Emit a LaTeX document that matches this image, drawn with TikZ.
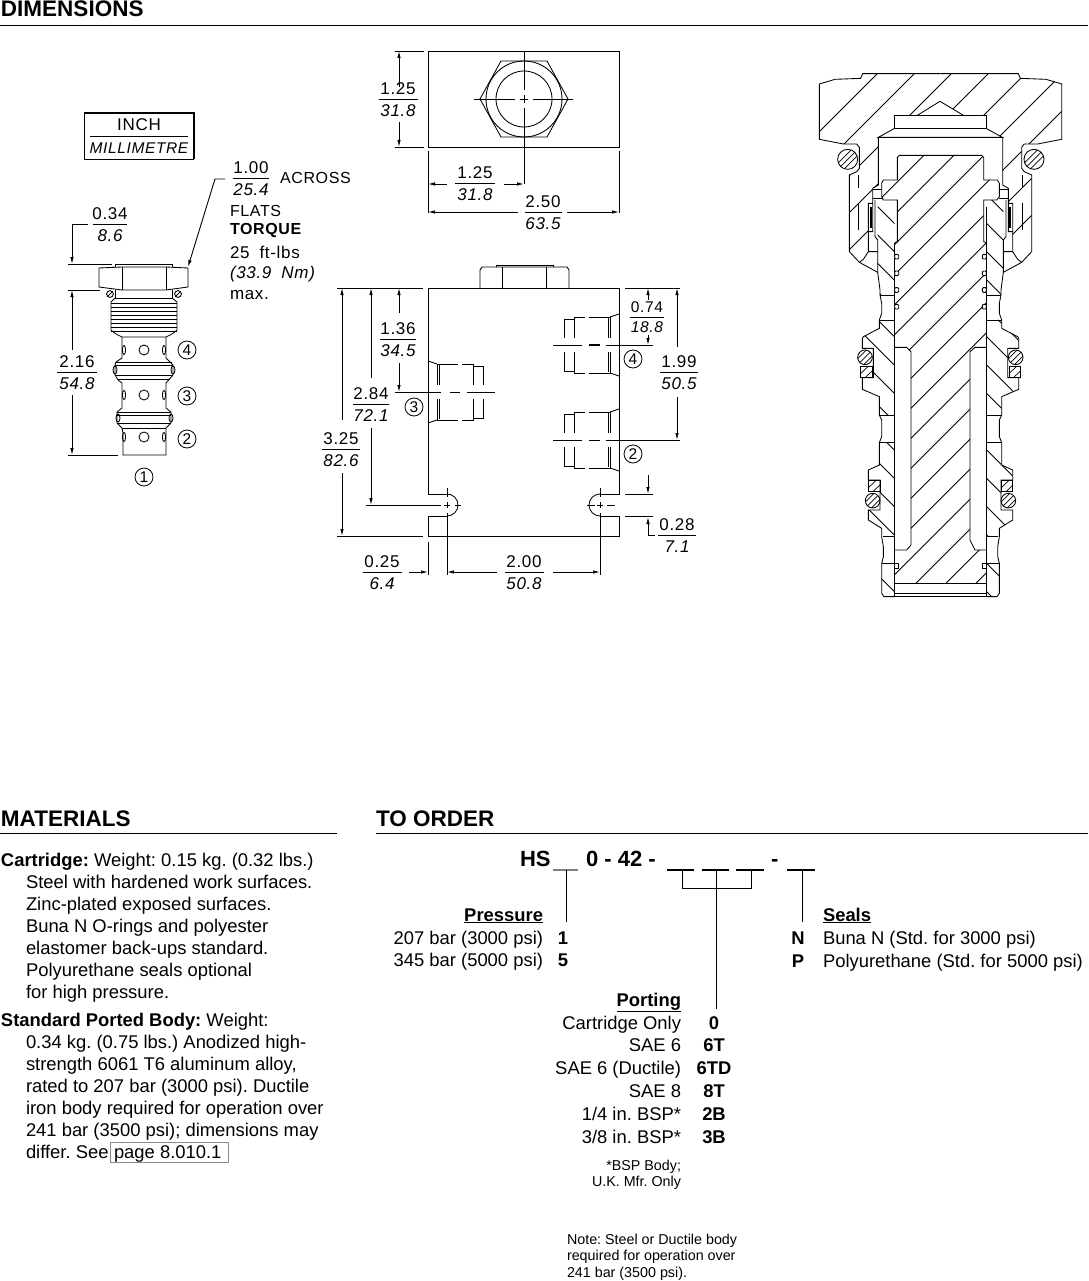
\documentclass[tikz,border=0pt]{standalone}
\usepackage{fontspec}
\usetikzlibrary{arrows.meta}
\setmainfont{Liberation Sans}
\newfontfamily\cadf[LetterSpace=4]{Liberation Sans}
\newcommand{\bodyf}{\frenchspacing\fontsize{18.4}{20}\selectfont}
\newcommand{\cadup}{\fontsize{17}{20}\selectfont\cadf}
\newcommand{\cadit}{\fontsize{17}{20}\selectfont\cadf\itshape}
\newcommand{\frc}[6]{%
 \node[cad] (#1t) at (#2,#3-10.5) {\cadup #5};
 \node[cad] (#1b) at (#2,#3+12) {\cadit #6};
 \draw[thin0] (#2-#4/2,#3) -- (#2+#4/2,#3);}
\newcommand{\frs}[6]{%
 \node[cad] (#1t) at (#2,#3-10) {\fontsize{15.5}{18}\selectfont\cadf #5};
 \node[cad] (#1b) at (#2,#3+10) {\fontsize{15.5}{18}\selectfont\cadf\itshape #6};
 \draw[thin0] (#2-#4/2,#3) -- (#2+#4/2,#3);}
\newcommand{\balloon}[3]{\node[draw,circle,line width=.8pt,minimum size=18pt,inner sep=0pt] (#1) at (#2) {\fontsize{15.5}{16}\selectfont\cadf #3};}
\newcommand{\port}[3]{% x edge, y centre, direction
 \begin{scope}[shift={(#1,#2)},x=#3pt,y=-1pt]
 \draw[ln] (0,31) -- (9,28) (0,-31) -- (9,-28);
 \draw[ln] (9,7) -- (9,28) -- (30,28) (34,28) -- (45,28) -- (45,7) (9,-7) -- (9,-28) -- (30,-28) (34,-28) -- (45,-28) -- (45,-7);
 \draw[ln] (11,7) -- (11,27) (11,-7) -- (11,-27);
 \draw[ln] (45,26) -- (55,26) -- (55,7) (45,-26) -- (55,-26) -- (55,-7);
 \end{scope}}
% half of the section, coordinates of the 3x crop
\newcommand{\halfsec}{%
 \draw[ln] (421,41) -- (188,41) -- (182,55) -- (105,58) -- (58,72) -- (58,238) -- (130,252) -- (170,252) -- (178,262) -- (178,325) -- (170,335) -- (148,345) -- (148,575) -- (178,607) -- (233,637) -- (240,690) -- (240,705) -- (245,730) -- (245,760) -- (238,780) -- (238,805) -- (190,830) -- (187,835) -- (187,865) -- (220,865) -- (220,953) -- (187,953) -- (187,988) -- (238,1010) -- (238,1065) -- (245,1080) -- (245,1130) -- (238,1148) -- (238,1215) -- (205,1230) -- (205,1260) -- (240,1260) -- (240,1350) -- (205,1350) -- (205,1380) -- (245,1405) -- (245,1430) -- (250,1460) -- (250,1490) -- (245,1510) -- (245,1600) -- (252,1610) -- (284,1610);
 \draw[ln] (235,232) -- (235,375) -- (218,385) -- (218,430) -- (205,430) -- (205,515) -- (218,515) -- (218,430);
 \draw[ln] (218,388) -- (245,388) (218,415) -- (245,415);
 \draw[ln,line width=1.2pt] (213,440) -- (213,505);
 \draw[ln] (225,420) -- (225,530) -- (233,540) -- (233,637) (205,515) -- (205,575) -- (190,598) -- (178,607) (205,575) -- (233,575);
 \draw[ln] (175,430) -- (175,510) (175,345) -- (175,385);
 \draw[ln] (284,548) -- (284,1610);
 \draw[ln] (240,705) -- (284,705) (238,780) -- (284,780) (238,1065) -- (284,1065) (238,1148) -- (284,1148) (250,1430) -- (284,1430) (245,1510) -- (284,1510);
 \foreach \yy in {590,640,690,740}{\draw[ln,fill=white,rounded corners=1pt] (284,\yy-7) rectangle (296,\yy+7);}
 \draw[ln,fill=white] (284,1510) rectangle (296,1524);
}
\newcommand{\cagepath}{(233,420) -- (284,420) -- (284,705) -- (240,705) -- (233,637) -- cycle
 (238,780) -- (238,805) -- (190,830) -- (187,835) -- (187,865) -- (220,865) -- (220,953) -- (187,953) -- (187,988) -- (238,1010) -- (238,1065) -- (284,1065) -- (284,780) -- cycle
 (238,1148) -- (238,1215) -- (205,1230) -- (205,1260) -- (240,1260) -- (240,1350) -- (205,1350) -- (205,1380) -- (245,1405) -- (245,1430) -- (284,1430) -- (284,1148) -- cycle
 (245,1510) -- (245,1600) -- (252,1610) -- (284,1610) -- (284,1510) -- cycle}
\newcommand{\oring}[3]{% x,y,r with hatching
 \begin{scope}
 \clip (#1,#2) circle[radius=#3];
 \foreach \k in {-1,0,1}{\draw[thin0] (#1+\k*18-40,#2+40) -- (#1+\k*18+40,#2-40);}
 \end{scope}
 \draw[ln] (#1,#2) circle[radius=#3];}
\newcommand{\brect}[4]{%
 \begin{scope}
 \clip (#1,#2) rectangle (#3,#4);
 \foreach \k in {-1,1}{\draw[thin0] (#1+\k*13-10,#4+10) -- (#3+\k*13+10,#2-10);}
 \end{scope}
 \draw[ln,line width=1pt] (#1,#2) rectangle (#3,#4);}
\tikzset{
 ln/.style={line width=.85pt,black},
 thin0/.style={line width=.7pt,black},
 ext/.style={line width=.7pt,black},
 dima/.style={line width=.9pt,black,-{Latex[length=7pt,width=3.5pt]}},
 cad/.style={inner sep=0pt,outer sep=0pt,anchor=center,text=black},
 txt/.style={inner sep=0pt,outer sep=0pt,font=\bodyf,text=black,text height=15pt,text depth=3pt},
 txl/.style={txt,anchor=west},
 txr/.style={txt,anchor=east},
 code/.style={txt,font=\bodyf\bfseries},
 big/.style={font=\frenchspacing\fontsize{22.5}{24}\selectfont\bfseries,text height=17pt,text depth=1pt},
 ord/.style={font=\frenchspacing\fontsize{22}{24}\selectfont\bfseries,text height=17pt,text depth=1pt},
 sml/.style={font=\frenchspacing\fontsize{14.3}{16}\selectfont,text height=14pt,text depth=4pt},
}
\begin{document}
\begin{tikzpicture}[x=1pt,y=-1pt]
\useasboundingbox (0,0) rectangle (1088,1281);
\fill[white] (0,0) rectangle (1088,1281);
%% headers
\node[txl,big] (hdim) at (1,9) {DIMENSIONS};
\draw[thin0] (0,25) -- (1088,25);
\node[txl,big] (hmat) at (1,818) {MATERIALS};
\draw[thin0] (0,833) -- (337,833);
\node[txl,big] (hord) at (376,818) {TO ORDER};
\draw[thin0] (376,833) -- (1088,833);
%% INCH box
\draw[line width=.8pt] (84,159) -- (84,113) (84,159) -- (194,159);
\draw[line width=1.4pt] (84,113) -- (194,113) -- (194,159);
\node[cad] (inch) at (139,125) {\cadup INCH};
\node[cad] (mm) at (139,148) {\fontsize{15.5}{18}\selectfont\cadf\itshape MILLIMETRE};
\draw[thin0] (90,136) -- (188,136);
%% Cartridge view
\draw[ln] (99,268) -- (122,267) -- (166,267) -- (188,268) -- (188,287) -- (166,290) -- (122,290) -- (99,287) -- cycle;
\draw[ln] (122,267) -- (122,290) (166,267) -- (166,290);
\draw[ln] (115,267) -- (115,264) -- (172,264) -- (172,267);
\draw[ln] (115,290) -- (115,298) -- (172,298) -- (172,290);
\draw[ln] (115,298) -- (111,302) -- (111,330) -- (116,334) -- (122,337) -- (166,337) -- (172,334) -- (177,330) -- (177,302) -- (172,298);
\foreach \yy in {303,307,311,315,319,323,327,331}{\draw[line width=.6pt] (111,\yy) -- (177,\yy);}
\draw[ln] (122,337) -- (122,358) -- (116,362) -- (115,365) -- (115,375) -- (118,380) -- (122,383) -- (122,408) -- (117,412) -- (117,423) -- (122,428) -- (123,433) -- (123,455) -- (166,455) -- (166,428) -- (171,423) -- (171,412) -- (166,408) -- (166,383) -- (173,375) -- (173,365) -- (166,358) -- (166,337);
\draw[ln] (116,362) -- (172,362) (115,365) -- (173,365) (115,375) -- (173,375) (118,379) -- (170,379);
\draw[ln] (117,412) -- (171,412) (117,415) -- (171,415) (117,423) -- (171,423) (122,428) -- (166,428);
\draw[ln] (110,294) circle[radius=3.4] (178,294) circle[radius=3.4];
\draw[ln] (107.5,296.5) -- (112.5,291.5) (175.5,296.5) -- (180.5,291.5);
\foreach \px/\py in {115/370,173/370,118/418,171/418}{\draw[ln] (\px,\py) ellipse[x radius=2,y radius=4];}
\foreach \yy in {350,395,437}{
 \draw[ln] (144,\yy) circle[radius=5];
 \draw[ln] (124,\yy) ellipse[x radius=1.6,y radius=4.5] (164,\yy) ellipse[x radius=1.6,y radius=4.5];
}
\balloon{b4a}{187,350}{4}
\balloon{b3a}{187,396}{3}
\balloon{b2a}{187,439}{2}
\balloon{b1a}{144,477}{1}
% dims cartridge
\draw[ext] (68,264) -- (112,264) (68,290) -- (100,290) (68,455) -- (118,455);
\draw[dima] (88,224) -- (72,224) -- (72,264);
\draw[dima] (72,350) -- (72,290);
\draw[dima] (72,395) -- (72,455);
\frc{f034}{110}{224}{34}{0.34}{8.6}
\frc{f216}{77}{372}{40}{2.16}{54.8}
%% leader
\draw[dima] (225,179) -- (215,179) -- (188,267);
\frc{f100}{251}{178}{36}{1.00}{25.4}
\node[cad,anchor=west] (across) at (280,178) {\fontsize{16}{20}\selectfont\cadf ACROSS};
\node[cad,anchor=west] (flats) at (230,211) {\fontsize{16}{20}\selectfont\cadf FLATS};
\node[cad,anchor=west] (torque) at (230,230) {\fontsize{16}{20}\selectfont\cadf\bfseries TORQUE};
\node[cad,anchor=west] (ftlb) at (230,252) {\fontsize{17}{20}\selectfont\cadf 25\hspace{10pt}ft-lbs};
\node[cad,anchor=west] (nm) at (230,274) {\fontsize{17}{20}\selectfont\cadf\itshape (33.9\hspace{10pt}Nm)};
\node[cad,anchor=west] (mx) at (230,295) {\fontsize{17}{20}\selectfont\cadf max.};
%% Top view
\draw[ln] (428,51) rectangle (619,147);
\draw[ln] (480,99) -- (501,61) -- (547,61) -- (568,99) -- (547,137) -- (501,137) -- cycle;
\draw[ln] (524,99) circle[radius=38] (524,99) circle[radius=28];
\draw[thin0] (474,99) -- (515,99) (520,99) -- (528,99) (533,99) -- (573,99);
\draw[thin0] (524,51) -- (524,90) (524,95) -- (524,103) (524,108) -- (524,184);
\draw[ext] (395,51) -- (424,51) (395,147) -- (424,147);
\draw[dima] (399,87) -- (399,51);
\draw[dima] (399,122) -- (399,147);
\frc{f125a}{398}{99}{39}{1.25}{31.8}
\draw[ext] (428,151) -- (428,213) (619,151) -- (619,213);
\draw[dima] (447,184) -- (428,184);
\draw[dima] (504,184) -- (524,184);
\frc{f125b}{475}{183}{40}{1.25}{31.8}
\draw[dima] (518,212) -- (428,212);
\draw[dima] (567,212) -- (619,212);
\frc{f250}{543}{212}{37}{2.50}{63.5}
%% Body view
\draw[ln] (447,494) -- (428,494) -- (428,288) -- (619,288) -- (619,494) -- (600,494);
\draw[ln] (447,516) -- (428,516) -- (428,536) -- (619,536) -- (619,516) -- (600,516);
\draw[ln] (447,494) arc[start angle=-90,end angle=90,radius=11];
\draw[ln] (600,494) arc[start angle=270,end angle=90,radius=11];
\draw[ln] (480,288) -- (480,270) -- (482,267) -- (567,267) -- (569,270) -- (569,288);
\draw[ln] (502,267) -- (502,288) (546,267) -- (546,288);
\draw[ln] (496,267) -- (496,265) -- (553,265) -- (553,267);
\port{428}{392}{1}
\port{619}{345}{-1}
\port{619}{440}{-1}
\draw[thin0] (395,392) -- (441,392) (450,392) -- (460,392) (467,392) -- (495,392);
\draw[thin0] (553,345) -- (582,345) (606,345) -- (653,345) (553,440) -- (582,440) (589,440) -- (600,440) (606,440) -- (680,440);
\draw[line width=1.3pt] (589,345) -- (600,345);
% centre marks
\draw[thin0] (366,505) -- (441,505) (444,505) -- (450,505) (455,505) -- (461,505);
\draw[thin0] (447,488) -- (447,497) (447,502) -- (447,508) (447,513) -- (447,575);
\draw[thin0] (587,505) -- (595,505) (597,505) -- (603,505) (607,505) -- (615,505);
\draw[thin0] (600,488) -- (600,497) (600,502) -- (600,508) (600,513) -- (600,575);
% dims body
\draw[ext] (337,288) -- (423,288) (337,536) -- (423,536) (625,288) -- (680,288) (625,494) -- (653,494) (625,516) -- (653,516);
\draw[dima] (342,420) -- (342,288);
\draw[dima] (342,473) -- (342,536);
\frc{f325}{341}{449}{38}{3.25}{82.6}
\draw[dima] (371,378) -- (371,288);
\draw[dima] (371,428) -- (371,505);
\frc{f284}{371}{404}{36}{2.84}{72.1}
\draw[dima] (399,313) -- (399,288);
\draw[dima] (399,363) -- (399,392);
\frc{f136}{398}{339}{36}{1.36}{34.5}
\draw[dima] (648,300) -- (648,288);
\draw[dima] (648,335) -- (648,345);
\frs{f074}{647}{317}{34}{0.74}{18.8}
\draw[dima] (677,347) -- (677,288);
\draw[dima] (677,397) -- (677,440);
\frc{f199}{679}{372}{38}{1.99}{50.5}
\draw[dima] (648,475) -- (648,494);
\draw[dima] (648,535) -- (648,517);
\draw[ext] (648,535) -- (655,535);
\frc{f028}{677}{535}{38}{0.28}{7.1}
\draw[ext] (428,542) -- (428,575);
\draw[dima] (409,572) -- (428,572);
\draw[dima] (497,572) -- (447,572);
\draw[dima] (553,572) -- (600,572);
\frc{f025}{382}{572}{39}{0.25}{6.4}
\frc{f200}{524}{572}{39}{2.00}{50.8}
\balloon{b3b}{414,407}{3}
\balloon{b4b}{633,359}{4}
\balloon{b2b}{633,454}{2}
%% Section view
\begin{scope}[shift={(800,60)},x=.33333pt,y=-.33333pt]
 % hatching of body
 \begin{scope}
 \clip (148,575) -- (148,345) -- (170,335) -- (178,325) -- (178,262) -- (170,252) -- (130,252) -- (58,238) -- (58,72) -- (105,58) -- (182,55) -- (188,41) -- (655,41) -- (660,55) -- (738,58) -- (785,72) -- (785,238) -- (710,252) -- (672,252) -- (665,262) -- (665,325) -- (672,335) -- (695,345) -- (695,575) -- (660,607) -- (637,575) -- (637,515) -- (625,515) -- (625,385) -- (607,375) -- (607,232) -- (558,205) -- (558,166) -- (490,166) -- (420,124) -- (352,166) -- (284,166) -- (284,205) -- (235,232) -- (235,375) -- (218,385) -- (218,430) -- (205,430) -- (205,575) -- (178,607) -- cycle;
 \foreach \k in {0,...,8}{\draw[ln] (0,273+111*\k) -- (900,273+111*\k-900);}
 \end{scope}
 % hatching of spool
 \begin{scope}
 \clip (292,292) -- (298,286) -- (545,286) -- (551,292) -- (551,360) -- (592,360) -- (598,370) -- (598,410) -- (590,420) -- (551,420) -- (551,545) -- (558,548) -- (558,862) -- (525,862) -- (510,875) -- (510,1440) -- (525,1470) -- (558,1470) -- (558,1570) -- (284,1570) -- (284,1470) -- (320,1470) -- (333,1455) -- (333,875) -- (320,862) -- (284,862) -- (284,548) -- (292,545) -- (292,420) -- (250,420) -- (245,410) -- (245,370) -- (250,360) -- (292,360) -- cycle;
 \foreach \k in {0,...,16}{\draw[ln] (100,658+90*\k-100) -- (900,658+90*\k-900);}
 \end{scope}
 % cage hatching left
 \begin{scope}
 \clip \cagepath;
 \foreach \k in {0,...,17}{\draw[ln] (100,307+85*\k) -- (400,607+85*\k);}
 \end{scope}
 % cage hatching right
 \begin{scope}[shift={(843,0)},x=-.33333pt]
 \clip \cagepath;
 \foreach \k in {0,...,17}{\draw[ln] (0,843-240+85*\k) -- (400,843-640+85*\k);}
 \end{scope}
 % outlines
 \halfsec
 \begin{scope}[shift={(843,0)},x=-.33333pt]
 \halfsec
 \end{scope}
 % spool + cap
 \draw[ln] (284,166) rectangle (558,205);
 \draw[ln] (352,166) -- (420,124) -- (490,166);
 \draw[ln] (284,205) -- (235,232) -- (607,232) -- (558,205);
 \draw[ln] (292,360) -- (292,292) -- (298,286) -- (545,286) -- (551,292) -- (551,360) -- (592,360) -- (598,370) -- (598,410) -- (590,420) -- (551,420) -- (551,545) -- (558,548);
 \draw[ln] (292,360) -- (250,360) -- (245,370) -- (245,410) -- (250,420) -- (292,420) -- (292,545) -- (284,548);
 \draw[ln] (558,440) -- (558,1610);
 \draw[ln] (284,862) -- (320,862) -- (333,875) -- (333,1455) -- (320,1470) -- (284,1470);
 \draw[ln] (558,862) -- (525,862) -- (510,875) -- (510,1440) -- (525,1470) -- (558,1470);
 \draw[ln] (284,1570) -- (558,1570) (284,1600) -- (558,1600) (284,1610) -- (558,1610);
 % seals
 \oring{143}{298}{30}
 \oring{702}{298}{30}
 \oring{195}{892}{22}
 \oring{647}{892}{22}
 \brect{182}{920}{217}{953}
 \brect{627}{920}{662}{953}
 \brect{205}{1263}{240}{1295}
 \brect{605}{1263}{638}{1295}
 \oring{218}{1322}{22}
 \oring{625}{1322}{22}
\end{scope}
%% Materials
\node[txl] (m1) at (1,860) {\textbf{Cartridge:} Weight: 0.15 kg. (0.32 lbs.)};
\node[txl] (m2) at (26,882) {Steel with hardened work surfaces.};
\node[txl] (m3) at (26,904) {Zinc-plated exposed surfaces.};
\node[txl] (m4) at (26,926) {Buna N O-rings and polyester};
\node[txl] (m5) at (26,948) {elastomer back-ups standard.};
\node[txl] (m6) at (26,970) {Polyurethane seals optional};
\node[txl] (m7) at (26,992) {for high pressure.};
\node[txl] (m8) at (1,1020) {\textbf{Standard Ported Body:} Weight:};
\node[txl] (m9) at (26,1042) {0.34 kg. (0.75 lbs.) Anodized high-};
\node[txl] (m10) at (26,1064) {strength 6061 T6 aluminum alloy,};
\node[txl] (m11) at (26,1086) {rated to 207 bar (3000 psi). Ductile};
\node[txl] (m12) at (26,1108) {iron body required for operation over};
\node[txl] (m13) at (26,1130) {241 bar (3500 psi); dimensions may};
\node[txl] (m14) at (26,1152) {differ. See};
\node[txl] (m15) at (114,1152) {page 8.010.1};
\draw[line width=.8pt,black!45] (110,1142) rectangle (228,1162);
%% Order
\node[txl,ord] (o1) at (520,858) {HS};
\node[txl,ord] (o2) at (586,858) {0 - 42 -};
\node[txl,ord] (o3) at (771,858) {-};
\draw[line width=1.2pt,black!50] (553,870) -- (578,870);
\draw[line width=1.2pt] (667,870) -- (694,870) (702,870) -- (729,870) (736,870) -- (764,870) (787,870) -- (815,870);
\draw[thin0] (566,870) -- (566,922) (802,870) -- (802,922);
\draw[thin0] (682,870) -- (682,888) -- (751,888) -- (751,870) (716.5,870) -- (716.5,1009);
\node[txr] (pt) at (543,915) {\textbf{\underline{Pressure}}};
\node[txr] (p1) at (543,938) {207 bar (3000 psi)};
\node[txr] (p2) at (543,960) {345 bar (5000 psi)};
\node[code] (p1c) at (563,938) {1};
\node[code] (p2c) at (563,960) {5};
\node[txl] (st) at (823,915) {\textbf{\underline{Seals}}};
\node[code] (s1c) at (798,938) {N};
\node[code] (s2c) at (798,961) {P};
\node[txl] (s1) at (823,938) {Buna N (Std. for 3000 psi)};
\node[txl] (s2) at (823,961) {Polyurethane (Std. for 5000 psi)};
\node[txr] (rt) at (681,1000) {\textbf{\underline{Porting}}};
\node[txr] (r1) at (681,1023) {Cartridge Only};
\node[txr] (r2) at (681,1045) {SAE 6};
\node[txr] (r3) at (681,1068) {SAE 6 (Ductile)};
\node[txr] (r4) at (681,1091) {SAE 8};
\node[txr] (r5) at (681,1114) {1/4 in. BSP*};
\node[txr] (r6) at (681,1137) {3/8 in. BSP*};
\node[code] (r1c) at (714,1023) {0};
\node[code] (r2c) at (714,1045) {6T};
\node[code] (r3c) at (714,1068) {6TD};
\node[code] (r4c) at (714,1091) {8T};
\node[code] (r5c) at (714,1114) {2B};
\node[code] (r6c) at (714,1137) {3B};
\node[txr,sml] (n1) at (681,1165) {*BSP Body;};
\node[txr,sml] (n2) at (681,1181) {U.K. Mfr. Only};
\node[txl,sml] (n3) at (567,1239) {Note: Steel or Ductile body};
\node[txl,sml] (n4) at (567,1255) {required for operation over};
\node[txl,sml] (n5) at (567,1272) {241 bar (3500 psi).};
\end{tikzpicture}
\end{document}
